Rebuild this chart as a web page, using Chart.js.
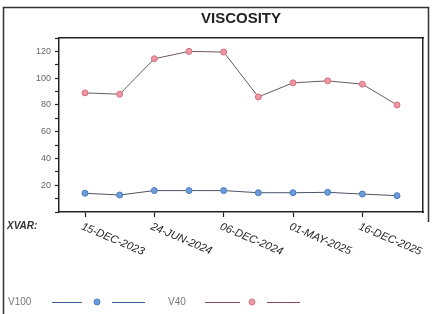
<!DOCTYPE html>
<html>
<head>
<meta charset="utf-8">
<script src="https://cdn.jsdelivr.net/npm/chart.js@4.4.1/dist/chart.umd.min.js"></script>
<style>
  html, body { margin: 0; padding: 0; background: #fff; }
  #wrap { width: 433px; height: 314px; position: relative; }
</style>
</head>
<body>
<div id="wrap"><canvas id="lineChart" width="433" height="314"></canvas></div>
<script>
// samples along the x axis (one every ~6 months), labels shown on every other one
const samples = [0, 1, 2, 3, 4, 5, 6, 7, 8, 9];
const tickLabels = ['15-DEC-2023', '24-JUN-2024', '06-DEC-2024', '01-MAY-2025', '16-DEC-2025'];
const tickSamples = [0, 2, 4, 6, 8];
const v100 = [14, 12.7, 16, 16, 16, 14.4, 14.4, 14.7, 13.4, 12.2];
const v40 = [89, 88, 114.5, 120, 119.5, 86, 96.5, 98, 95.5, 80];

const seriesNames = ['V100', 'V40'];
const markerFill = ['#6b9bd9', '#ec97a3'];
const markerEdge = ['#4a7cc4', '#d9707f'];

function toPoints(arr) {
    return samples.map((s, i) => ({ x: s, y: arr[i] }));
}

// frame, title, rotated date labels, XVAR and legend
const decorations = {
    id: 'decorations',
    afterDraw(chart) {
        const ctx = chart.ctx;
        const area = chart.chartArea;
        const xs = chart.scales.x;
        ctx.save();

        // outer frame
        ctx.strokeStyle = '#333';
        ctx.lineWidth = 1.5;
        ctx.beginPath();
        ctx.moveTo(3.5, 314);
        ctx.lineTo(3.5, 7.5);
        ctx.lineTo(428.5, 7.5);
        ctx.lineTo(428.5, 222);
        ctx.stroke();

        // title
        ctx.fillStyle = '#222';
        ctx.font = 'bold 15px "Liberation Sans", Arial, sans-serif';
        ctx.textAlign = 'center';
        ctx.textBaseline = 'middle';
        ctx.fillText('VISCOSITY', (area.left + area.right) / 2, 19);

        // XVAR:
        ctx.font = 'italic bold 10px "Liberation Sans", Arial, sans-serif';
        ctx.textAlign = 'left';
        ctx.fillStyle = '#333';
        ctx.fillText('XVAR:', 7, 226);

        // rotated tick labels
        ctx.font = 'italic 11px "Liberation Sans", Arial, sans-serif';
        ctx.fillStyle = '#222';
        ctx.textBaseline = 'top';
        tickSamples.forEach((s, i) => {
            const px = xs.getPixelForValue(s);
            ctx.save();
            ctx.translate(px - 1, 221);
            ctx.rotate(23 * Math.PI / 180);
            ctx.fillText(tickLabels[i], 0, 0);
            ctx.restore();
        });

        // legend
        const ly = 302;
        const items = [
            { x: 8, line1: [52, 82], mark: 97, line2: [112, 145] },
            { x: 168, line1: [205, 240], mark: 252, line2: [267, 300] }
        ];
        ctx.font = '10px "Liberation Sans", Arial, sans-serif';
        ctx.textBaseline = 'middle';
        items.forEach((it, i) => {
            ctx.fillStyle = '#777';
            ctx.fillText(seriesNames[i], it.x, ly);
            ctx.strokeStyle = i === 0 ? '#3b5f9a' : '#8a4a55';
            ctx.lineWidth = 1;
            ctx.beginPath();
            ctx.moveTo(it.line1[0], ly + 0.5);
            ctx.lineTo(it.line1[1], ly + 0.5);
            ctx.moveTo(it.line2[0], ly + 0.5);
            ctx.lineTo(it.line2[1], ly + 0.5);
            ctx.stroke();
            ctx.fillStyle = markerFill[i];
            ctx.strokeStyle = markerEdge[i];
            ctx.beginPath();
            ctx.arc(it.mark, ly, 3, 0, Math.PI * 2);
            ctx.fill();
            ctx.stroke();
        });

        ctx.restore();
    }
};

const ctx = document.getElementById('lineChart').getContext('2d');
const myChart = new Chart(ctx, {
    type: 'line',
    data: {
        datasets: [
            {
                label: seriesNames[0],
                data: toPoints(v100),
                borderColor: '#4a5566',
                borderWidth: 1,
                backgroundColor: markerFill[0],
                pointBorderColor: markerEdge[0],
                pointBackgroundColor: markerFill[0],
                pointRadius: 3,
                pointBorderWidth: 1,
                tension: 0
            },
            {
                label: seriesNames[1],
                data: toPoints(v40),
                borderColor: '#6a5a5e',
                borderWidth: 1,
                backgroundColor: markerFill[1],
                pointBorderColor: markerEdge[1],
                pointBackgroundColor: markerFill[1],
                pointRadius: 3,
                pointBorderWidth: 1,
                tension: 0
            }
        ]
    },
    options: {
        responsive: false,
        animation: false,
        layout: { padding: { left: 0, top: 38, right: 10, bottom: 0 } },
        plugins: {
            legend: { display: false },
            title: { display: false },
            tooltip: { enabled: false }
        },
        scales: {
            x: {
                type: 'linear',
                min: -0.75,
                max: 9.75,
                afterBuildTicks: (scale) => {
                    scale.ticks = tickSamples.map(v => ({ value: v }));
                },
                afterFit: (scale) => { scale.height = 102; },
                ticks: { display: false },
                grid: {
                    drawOnChartArea: false,
                    drawTicks: true,
                    tickLength: 5,
                    color: '#222',
                    tickWidth: 1.2
                },
                border: { color: '#222', width: 1.5 }
            },
            y: {
                min: 0,
                max: 130,
                afterFit: (scale) => { scale.width = 59; },
                ticks: {
                    stepSize: 10,
                    autoSkip: false,
                    color: '#666',
                    padding: 4,
                    font: { size: 9, family: '"Liberation Sans", Arial, sans-serif' },
                    callback: (v) => (v > 0 && v <= 120 && v % 20 === 0) ? String(v) : ''
                },
                grid: {
                    drawOnChartArea: false,
                    drawTicks: true,
                    tickLength: 4,
                    color: '#222',
                    tickWidth: 1.2
                },
                border: { color: '#222', width: 1.5 }
            },
            x2: {
                type: 'linear',
                position: 'top',
                display: true,
                ticks: { display: false },
                grid: { display: false, drawTicks: false },
                border: { color: '#222', width: 1.5 },
                afterFit: (scale) => { scale.height = 0; }
            },
            y2: {
                type: 'linear',
                position: 'right',
                display: true,
                ticks: { display: false },
                grid: { display: false, drawTicks: false },
                border: { color: '#222', width: 1.5 },
                afterFit: (scale) => { scale.width = 0; }
            }
        }
    },
    plugins: [decorations]
});
</script>
</body>
</html>
